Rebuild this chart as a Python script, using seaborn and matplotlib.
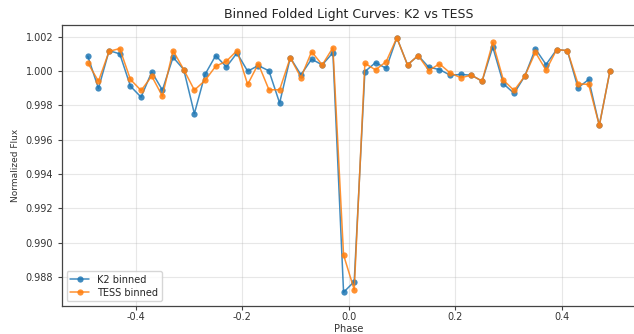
import numpy as np
import pandas as pd
import matplotlib
matplotlib.use("Agg")
import matplotlib.pyplot as plt
import seaborn as sns

# Phase bin centres (50 bins)
phase = [-0.49, -0.47, -0.45, -0.43, -0.41, -0.39, -0.37, -0.35, -0.33, -0.31,
         -0.29, -0.27, -0.25, -0.23, -0.21, -0.19, -0.17, -0.15, -0.13, -0.11,
         -0.09, -0.07, -0.05, -0.03, -0.01, 0.01, 0.03, 0.05, 0.07, 0.09,
         0.11, 0.13, 0.15, 0.17, 0.19, 0.21, 0.23, 0.25, 0.27, 0.29,
         0.31, 0.33, 0.35, 0.37, 0.39, 0.41, 0.43, 0.45, 0.47, 0.49]

k2_flux = [1.00085, 0.99898, 1.00118, 1.00099, 0.99911, 0.99847, 0.99994, 0.99888, 1.00079, 1.00008,
           0.99751, 0.99979, 1.00089, 1.00023, 1.00104, 0.99998, 1.00031, 1.00000, 0.99813, 1.00077,
           0.99977, 1.00068, 1.00035, 1.00106, 0.98711, 0.98773, 0.99996, 1.00048, 1.00015, 1.00193,
           1.00035, 1.00089, 1.00021, 1.00008, 0.99975, 0.99979, 0.99975, 0.99940, 1.00139, 0.99925,
           0.99869, 0.99969, 1.00128, 1.00037, 1.00124, 1.00118, 0.99901, 0.99950, 0.99682, 1.00000]

tess_flux = [1.00046, 0.99940, 1.00114, 1.00130, 0.99950, 0.99886, 0.99969, 0.99853, 1.00118, 1.00008,
             0.99888, 0.99944, 1.00027, 1.00056, 1.00118, 0.99921, 1.00041, 0.99890, 0.99890, 1.00077,
             0.99961, 1.00112, 1.00035, 1.00135, 0.98928, 0.98726, 1.00044, 1.00006, 1.00054, 1.00193,
             1.00035, 1.00089, 1.00002, 1.00041, 0.99988, 0.99960, 0.99975, 0.99940, 1.00166, 0.99946,
             0.99886, 0.99969, 1.00108, 1.00004, 1.00124, 1.00118, 0.99925, 0.99921, 0.99682, 1.00000]

x_ticks = [-0.4, -0.2, 0.0, 0.2, 0.4]
y_ticks = [0.988, 0.990, 0.992, 0.994, 0.996, 0.998, 1.000, 1.002]

df_k2 = pd.DataFrame({"Phase": phase, "Flux": k2_flux})
df_tess = pd.DataFrame({"Phase": phase, "Flux": tess_flux})

sns.set_style("ticks")
plt.rcParams["font.family"] = ["DejaVu Sans"]

fig = plt.figure(figsize=(6.34, 3.34), dpi=100)
ax = fig.add_axes([0.0973, 0.0838, 0.906, 0.8413])

sns.lineplot(data=df_k2, x="Phase", y="Flux", ax=ax, color="#1f77b4", marker="o",
             markersize=4.5, markeredgewidth=0, linewidth=1.1, alpha=0.85, label="K2 binned")
sns.lineplot(data=df_tess, x="Phase", y="Flux", ax=ax, color="#ff7f0e", marker="o",
             markersize=4.5, markeredgewidth=0, linewidth=1.1, alpha=0.85, label="TESS binned")

ax.set_xticks(x_ticks)
ax.set_yticks(y_ticks)
ax.set_xticklabels([f"{v:.1f}" for v in x_ticks])
ax.set_yticklabels([f"{v:.3f}" for v in y_ticks])
ax.set_xlim(-0.539, 0.539)
ax.set_ylim(0.98631, 1.00267)

ax.grid(True, color="#b0b0b0", alpha=0.3, linewidth=0.8)
for s in ax.spines.values():
    s.set_color("#444444")
    s.set_linewidth(0.9)
ax.tick_params(axis="both", labelsize=7, length=3, width=0.8, color="#444444", labelcolor="#333333")
ax.tick_params(axis="x", pad=1.5)
ax.tick_params(axis="y", pad=3)

ax.set_title("Binned Folded Light Curves: K2 vs TESS", fontsize=9, color="#222222", pad=5)
ax.set_xlabel("Phase", fontsize=7, labelpad=1, color="#333333")
ax.set_ylabel("Normalized Flux", fontsize=6.5, labelpad=4, color="#333333")

ax.legend(loc="lower left", fontsize=7, frameon=True, borderaxespad=0.5,
          labelspacing=0.3, borderpad=0.35)

fig.savefig("out.png", dpi=100)
